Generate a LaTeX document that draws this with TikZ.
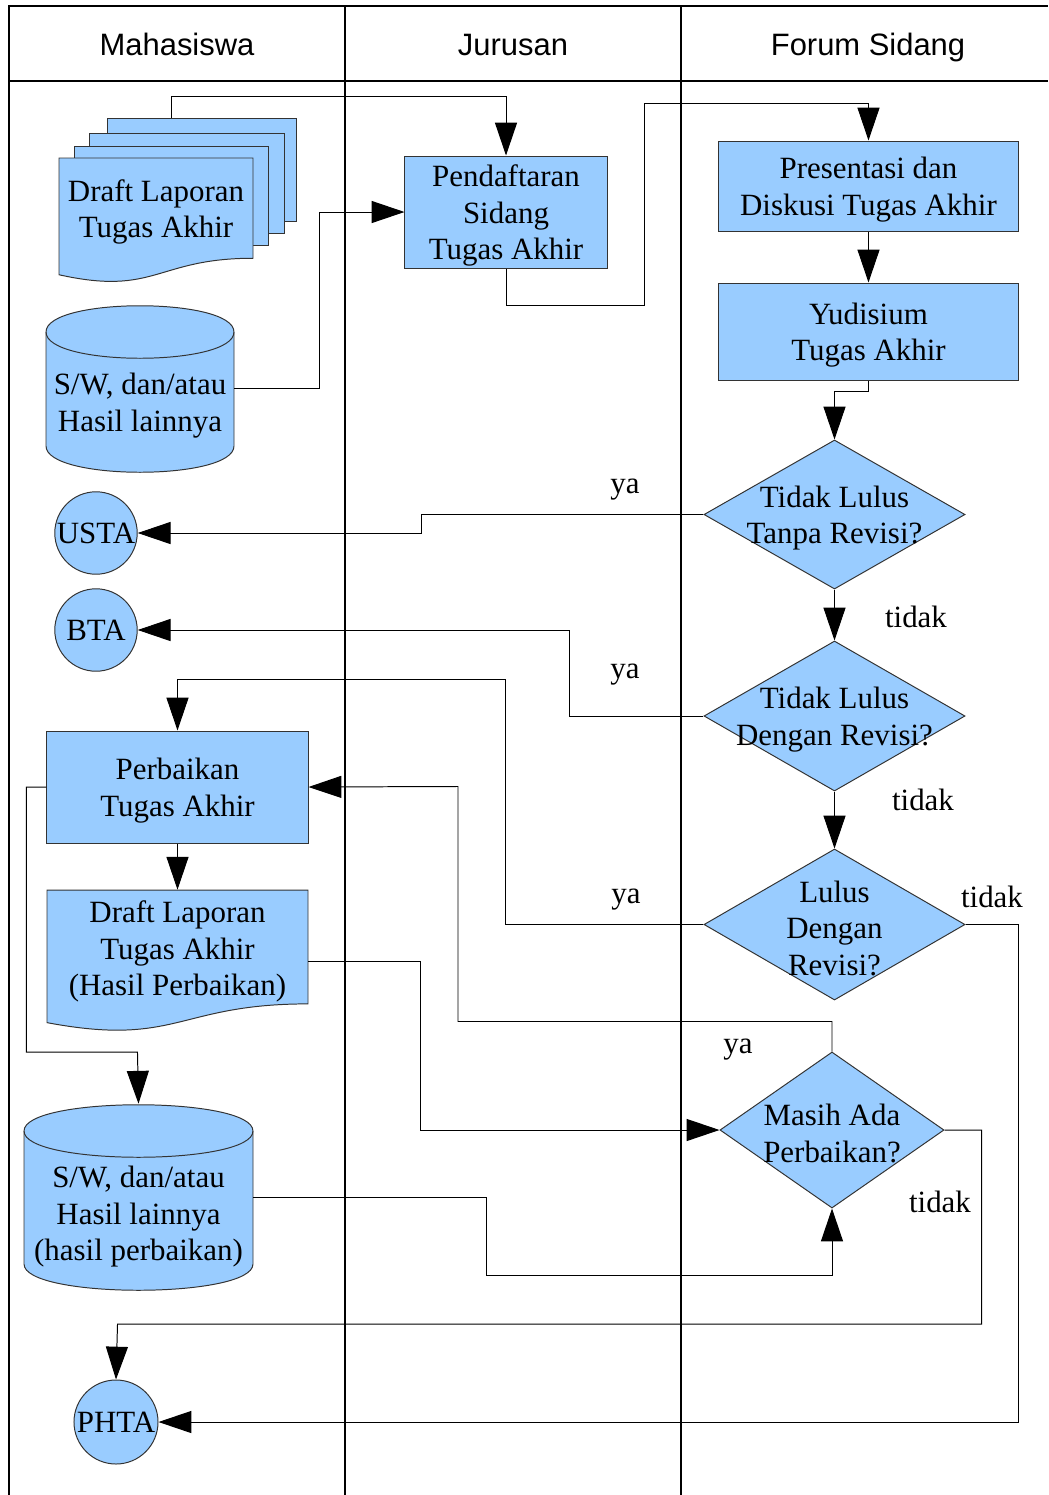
\documentclass[tikz,border=0pt]{standalone}
\usepackage{fontspec}
\setmainfont{Liberation Serif}
\setsansfont{Liberation Sans}
\usetikzlibrary{shapes.geometric, arrows.meta, positioning, calc}
\definecolor{shapeblue}{HTML}{99CCFF}
\definecolor{edgegray}{HTML}{333333}
\tikzstyle{process} = [rectangle, draw=edgegray, fill=shapeblue, inner sep=0pt, line width=0.7pt]
\tikzstyle{decision} = [diamond, draw=edgegray, fill=shapeblue, inner sep=0pt, line width=0.7pt]
\tikzstyle{terminal} = [circle, draw=edgegray, fill=shapeblue, inner sep=0pt, minimum size=2.06cm, line width=0.7pt]
\tikzstyle{holder} = [rectangle, inner sep=0pt]
\tikzstyle{arrow} = [line width=0.7pt, -{Triangle[length=0.82cm, width=0.55cm]}]
\tikzstyle{lane} = [line width=0.9pt]
\tikzstyle{lbl} = [inner sep=0pt, anchor=base]
\tikzstyle{header} = [anchor=base, font=\sffamily\fontsize{22}{26}\selectfont]
\tikzset{txt/.style={label={[align=center, yshift=-0.09cm]center:#1}}}
% document sheet with wavy bottom: left, right, top, height
\newcommand{\docsheet}[4]{%
  \filldraw[draw=edgegray, fill=shapeblue, line width=0.7pt]
    (#1,#3) -- (#2,#3) -- (#2,{#3+0.802*#4})
    .. controls ({(#1+#2)/2},{#3+0.802*#4}) and ({(#1+#2)/2},{#3+1.107*#4}) ..
    (#1,{#3+0.934*#4}) -- cycle;}
% cylinder: left, right, top ellipse centre, bottom ellipse centre
\newcommand{\cylshape}[4]{%
  \filldraw[draw=edgegray, fill=shapeblue, line width=0.7pt]
    (#1,#3) -- (#1,#4) .. controls (#1,{#4+35}) and (#2,{#4+35}) .. (#2,#4)
    -- (#2,#3) .. controls (#2,{#3-35}) and (#1,{#3-35}) .. cycle;
  \draw[edgegray, line width=0.7pt] (#1,#3) .. controls (#1,{#3+35}) and (#2,{#3+35}) .. (#2,#3);}

\begin{document}
\begin{tikzpicture}[x=0.025cm, y=-0.025cm, font=\fontsize{22}{26}\selectfont]
    \useasboundingbox (0,0) rectangle (1048,1495);
    % Lanes
    \draw[lane] (9,1495) -- (9,6) -- (1048,6);
    \draw[lane] (9,81) -- (1048,81);
    \draw[lane] (345,6) -- (345,1495);
    \draw[lane] (681,6) -- (681,1495);
    \node[header] (mhs) at (177,55) {Mahasiswa};
    \node[header] (jur) at (513,55) {Jurusan};
    \node[header] (forum) at (868,55) {Forum Sidang};

    % Mahasiswa
    \node[process, minimum width=4.7cm, minimum height=2.575cm] (sheetc) at (202,169.5) {};
    \node[process, minimum width=4.85cm, minimum height=2.5cm] (sheetb) at (187,183) {};
    \node[process, minimum width=4.825cm, minimum height=2.475cm] (sheeta) at (171.5,195.5) {};
    \docsheet{59}{253}{158}{125}
    \node[holder, txt={Draft Laporan\\Tugas Akhir}] (draft) at (156,208.5) {};
    \coordinate (draftout) at (171,118);

    \cylshape{46}{234}{332}{446}
    \node[holder, minimum width=4.7cm, minimum height=4.175cm,
        label={[align=center, yshift=-0.43cm]center:S/W, dan/atau\\Hasil lainnya}] (swa) at (140,388.5) {};

    \node[terminal, label=center:USTA] (usta) at (96,533) {};
    \node[terminal, label=center:BTA] (bta) at (96,630) {};

    \node[process, minimum width=6.525cm, minimum height=2.8cm, txt={Perbaikan\\Tugas Akhir}] (perbaikan) at (177.5,787) {};
    \docsheet{47}{308}{890}{142}
    \node[holder, minimum width=6.525cm, minimum height=3.55cm,
        label={[align=center, yshift=0.235cm]center:Draft Laporan\\Tugas Akhir\\(Hasil Perbaikan)}] (draftrev) at (177.5,961) {};

    \cylshape{24}{253}{1131}{1264}
    \node[holder, minimum width=5.725cm, minimum height=4.675cm,
        label={[align=center, yshift=-0.48cm]center:S/W, dan/atau\\Hasil lainnya\\(hasil perbaikan)}] (swb) at (138.5,1197.5) {};

    \node[terminal, minimum size=2.1cm, label=center:PHTA] (phta) at (116,1422) {};

    % Jurusan
    \node[process, minimum width=5.05cm, minimum height=2.8cm, txt={Pendaftaran\\Sidang\\Tugas Akhir}] (daftar) at (506,212) {};

    % Forum Sidang
    \node[process, minimum width=7.475cm, minimum height=2.25cm, txt={Presentasi dan\\Diskusi Tugas Akhir}] (presentasi) at (868.5,186) {};
    \node[process, minimum width=7.475cm, minimum height=2.425cm, txt={Yudisium\\Tugas Akhir}] (yudisium) at (868.5,331.5) {};
    \node[decision, minimum width=6.525cm, minimum height=3.725cm, txt={Tidak Lulus\\Tanpa Revisi?}] (tanpa) at (834.5,514.5) {};
    \node[decision, minimum width=6.525cm, minimum height=3.75cm, txt={Tidak Lulus\\Dengan Revisi?}] (dengan) at (834.5,716) {};
    \node[decision, minimum width=6.525cm, minimum height=3.775cm, txt={Lulus\\Dengan\\Revisi?}] (lulus) at (834.5,924.5) {};
    \node[decision, minimum width=5.6cm, minimum height=3.9cm, txt={Masih Ada\\Perbaikan?}] (masih) at (832,1130) {};

    % Labels
    \node[lbl] (ya1) at (625,493) {ya};
    \node[lbl] (tidak1) at (916,627) {tidak};
    \node[lbl] (ya2) at (625,678) {ya};
    \node[lbl] (tidak2) at (923,810) {tidak};
    \node[lbl] (ya3) at (626,903) {ya};
    \node[lbl] (tidak3) at (992,907) {tidak};
    \node[lbl] (ya4) at (738,1053) {ya};
    \node[lbl] (tidak4) at (940,1212) {tidak};

    % Arrows
    \draw[arrow] (draftout) -- ++(0,-22) -| (daftar.north);
    \draw[arrow] (swa.east) -- ++(85,0) |- (daftar.west);
    \draw[arrow] (daftar.south) |- ++(138,37) -- ++(0,-202) -| (presentasi.north);
    \draw[arrow] (presentasi) -- (yudisium);
    \draw[arrow] (yudisium.south) -- ++(0,11) -| (tanpa.north);
    \draw[arrow] (tanpa.west) -- ++(-282,0) |- (usta.east);
    \draw[arrow] (tanpa) -- (dengan);
    \draw[arrow] (dengan.west) -- ++(-134,0) |- (bta.east);
    \draw[arrow] (dengan) -- (lulus);
    \draw[arrow] (lulus.west) -| ++(-198,-245) -| (perbaikan.north);
    \draw[arrow] (lulus.east) -- ++(53,0) |- (phta.east);
    \draw[arrow] (perbaikan) -- (draftrev.north);
    \draw[arrow] (perbaikan.west) -- ++(-20,0) |- ++(111,265) -- (swb.north);
    \draw[arrow] (draftrev.east) -- ++(112,0) |- (masih.west);
    \draw[arrow] (masih.north) -- ++(0,-30) -| ++(-374,-235) -- (perbaikan.east);
    \draw[arrow] (masih.east) -- ++(37,0) |- ++(-864,194) -- (phta.north);
    \draw[arrow] (swb.east) -- ++(233,0) -- ++(0,78) -| (masih.south);
\end{tikzpicture}
\end{document}
